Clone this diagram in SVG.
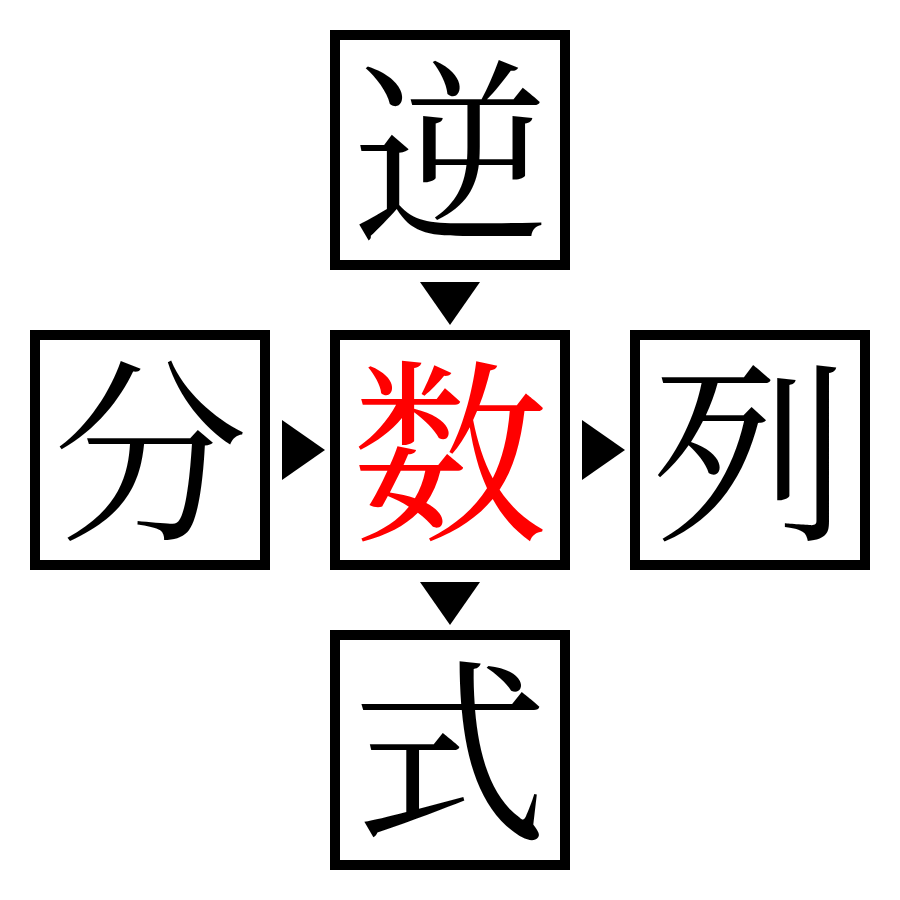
<svg xmlns="http://www.w3.org/2000/svg" width="900" height="900" viewBox="0 0 900 900">
<style>
.box{fill:#fff;stroke:#000;stroke-width:10}
.k{font-family:"Noto Serif CJK JP","Noto Sans CJK JP",serif;font-size:196px;text-anchor:middle;dominant-baseline:central;fill:#000}
.c{fill:#ff0000}
.arr{fill:#000}
</style>
<rect width="900" height="900" fill="#fff"/>
<g id="node-top"><rect class="box" x="335" y="35" width="230" height="230"/><text class="k" x="450" y="140">逆</text></g>
<g id="node-left"><rect class="box" x="35" y="335" width="230" height="230"/><text class="k" x="150" y="440">分</text></g>
<g id="node-center"><rect class="box" x="335" y="335" width="230" height="230"/><text class="k c" x="450" y="440">数</text></g>
<g id="node-right"><rect class="box" x="635" y="335" width="230" height="230"/><text class="k" x="750" y="440">列</text></g>
<g id="node-bottom"><rect class="box" x="335" y="635" width="230" height="230"/><text class="k" x="450" y="740">式</text></g>
<g id="connectors">
<polygon class="arr" points="420,282 480,282 450,325"/>
<polygon class="arr" points="282,420 325,450 282,480"/>
<polygon class="arr" points="582,420 625,450 582,480"/>
<polygon class="arr" points="420,582 480,582 450,625"/>
</g>
</svg>
